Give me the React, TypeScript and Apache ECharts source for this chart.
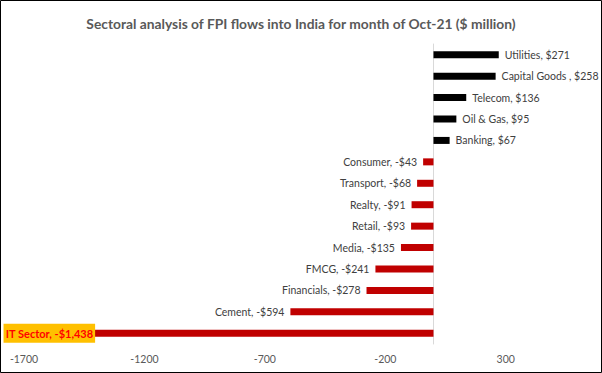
import React, { useEffect, useRef } from "react";
import * as echarts from "echarts";

const categories = [
  "Utilities",
  "Capital Goods ",
  "Telecom",
  "Oil & Gas",
  "Banking",
  "Consumer",
  "Transport",
  "Realty",
  "Retail",
  "Media",
  "FMCG",
  "Financials",
  "Cement",
  "IT Sector",
];
const values = [271, 258, 136, 95, 67, -43, -68, -91, -93, -135, -241, -278, -594, -1438];
const highlight = "IT Sector";
const titleText = "Sectoral analysis of FPI flows into India for month of Oct-21 ($ million)";

const FONT = "Lato, 'Open Sans', sans-serif";

function fmt(v: number) {
  const a = Math.abs(v).toLocaleString("en-US");
  return (v < 0 ? "-$" : "$") + a;
}

export default function App() {
  const ref = useRef<HTMLDivElement>(null);
  useEffect(() => {
    if (!ref.current) return;
    const chart = echarts.init(ref.current, undefined, { renderer: "svg" });
    const data = values.map((v, i) => {
      const name = categories[i];
      const isHi = name === highlight;
      return {
        value: v,
        itemStyle: { color: v >= 0 ? "#000000" : "#C00000" },
        label: isHi
          ? {
              show: true,
              position: "left",
              distance: -8,
              color: "#FF0000",
              backgroundColor: "#FFC000",
              padding: [4, 2, 4, 2],
              fontSize: 11,
              fontWeight: "bold",
              fontFamily: FONT,
              formatter: name + ", " + fmt(v),
            }
          : {
              show: true,
              position: v >= 0 ? "right" : "left",
              distance: 6,
              color: "#404040",
              fontSize: 10.5,
              fontFamily: FONT,
              formatter: name + ", " + fmt(v),
            },
      };
    });
    chart.setOption({
      animation: false,
      title: {
        text: titleText,
        left: "center",
        top: 11,
        textStyle: { color: "#595959", fontSize: 13.8, fontWeight: "bold", fontFamily: FONT },
      },
      graphic: [
        {
          type: "rect",
          shape: { x: 0.5, y: 0.5, width: 601, height: 372 },
          style: { fill: "none", stroke: "#000", lineWidth: 1 },
          silent: true,
        },
      ],
      grid: { left: 24, right: 24, top: 44, bottom: 29, containLabel: false },
      xAxis: {
        type: "value",
        min: -1700,
        max: 600,
        interval: 500,
        axisLine: { show: false },
        axisTick: { show: false },
        splitLine: { show: false },
        axisLabel: {
          showMaxLabel: false,
          color: "#595959",
          fontSize: 10.5,
          fontFamily: FONT,
          margin: 9,
          formatter: (v: number) => String(v),
        },
      },
      yAxis: {
        type: "category",
        inverse: true,
        data: categories,
        axisLine: { show: true, onZero: true, lineStyle: { color: "#D9D9D9", width: 1 } },
        axisTick: { show: false },
        axisLabel: { show: false },
        splitLine: { show: false },
      },
      series: [
        {
          type: "bar",
          data,
          barWidth: 7,
        },
      ],
    });
    return () => chart.dispose();
  }, []);
  return (
    <div
      ref={ref}
      style={{ position: "fixed", left: 0, top: 0, width: 602, height: 373, background: "#fff" }}
    />
  );
}
